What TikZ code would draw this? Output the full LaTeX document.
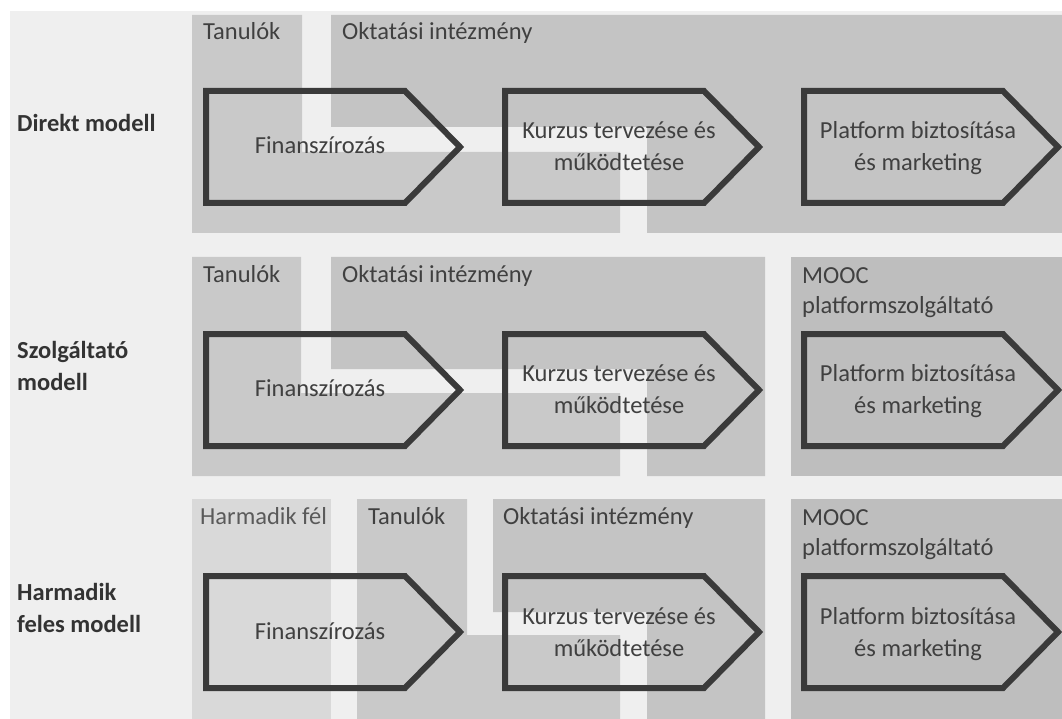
\documentclass[tikz,border=0pt]{standalone}
\usepackage{fontspec}
\setmainfont{Carlito}
\definecolor{panel}{HTML}{EFEFEF}
\definecolor{tanul}{HTML}{C9C9C9}
\definecolor{oktat}{HTML}{C4C4C4}
\definecolor{mooc}{HTML}{BEBEBE}
\definecolor{harm}{HTML}{D9D9D9}
\definecolor{chevc}{HTML}{3A3A3A}
\definecolor{txt}{HTML}{404040}
\definecolor{txtlight}{HTML}{5A5A5A}
\definecolor{rowtxt}{HTML}{333333}
\tikzset{
  chevline/.style={draw=chevc, line width=6pt, miter limit=10},
  chev/.pic={\path[chevline] (0,0) -- (199,0) -- (254,56) -- (199,112) -- (0,112) -- cycle;},
  grplabel/.style={anchor=base west, align=left, font=\fontsize{24.5}{30}\selectfont, text=txt, inner sep=0pt},
  boxtext/.style={anchor=base, align=center, font=\fontsize{24.5}{32}\selectfont, text=txt, inner sep=0pt},
  rowlabel/.style={anchor=base west, align=left, font=\bfseries\fontsize{24.5}{32}\selectfont, text=rowtxt, inner sep=0pt}
}
\begin{document}
\begin{tikzpicture}[x=1pt,y=-1pt]
\useasboundingbox (0,0) rectangle (1062,719);
\fill[white] (0,0) rectangle (1062,719);
\fill[panel] (10,11) rectangle (1062,719);

% ---------- Row 1: Direkt modell ----------
\fill[tanul] (192,15) -- (302,15) -- (302,152) -- (620,152) -- (620,233) -- (192,233) -- cycle;
\fill[oktat] (331,15) -- (1062,15) -- (1062,233) -- (647,233) -- (647,127) -- (331,127) -- cycle;

% ---------- Row 2: Szolgaltato modell ----------
\fill[tanul] (192,257) -- (301,257) -- (301,393) -- (620,393) -- (620,476) -- (192,476) -- cycle;
\fill[oktat] (331,257) -- (765,257) -- (765,476) -- (647,476) -- (647,369) -- (331,369) -- cycle;
\fill[mooc] (791,257) rectangle (1062,476);

% ---------- Row 3: Harmadik feles modell ----------
\fill[harm] (192,499) rectangle (331,719);
\fill[tanul] (357,499) -- (467,499) -- (467,635) -- (620,635) -- (620,719) -- (357,719) -- cycle;
\fill[oktat] (493,499) -- (765,499) -- (765,719) -- (647,719) -- (647,612) -- (493,612) -- cycle;
\fill[mooc] (791,499) rectangle (1062,719);

% ---------- Row labels (anchor = baseline of last line) ----------
\node[rowlabel] (r1) at (17,132) {Direkt modell};
\node[rowlabel] (r2) at (17,390) {Szolgáltató\\modell};
\node[rowlabel] (r3) at (17,632) {Harmadik\\feles modell};

% ---------- Group labels ----------
\node[grplabel] (g1a) at (203,40) {Tanulók};
\node[grplabel] (g1b) at (342,40) {Oktatási intézmény};
\node[grplabel] (g2a) at (203,283) {Tanulók};
\node[grplabel] (g2b) at (342,283) {Oktatási intézmény};
\node[grplabel] (g2c) at (802,313) {MOOC\\platformszolgáltató};
\node[grplabel, text=txtlight] (g3a) at (200,524) {Harmadik fél};
\node[grplabel] (g3b) at (368,524) {Tanulók};
\node[grplabel] (g3c) at (503,524) {Oktatási intézmény};
\node[grplabel] (g3d) at (802,555) {MOOC\\platformszolgáltató};

% ---------- Chevrons ----------
\pic at (206,91) {chev};
\pic at (505,91) {chev};
\pic at (804,91) {chev};
\pic at (206,334) {chev};
\pic at (505,334) {chev};
\pic at (804,334) {chev};
\pic at (206,576) {chev};
\pic at (505,576) {chev};
\pic at (804,576) {chev};

% ---------- Chevron texts ----------
\node[boxtext] (f1) at (320,154) {Finanszírozás};
\node[boxtext] (k1) at (619,171) {Kurzus tervezése és\\működtetése};
\node[boxtext] (p1) at (918,171) {Platform biztosítása\\és marketing};
\node[boxtext] (f2) at (320,396) {Finanszírozás};
\node[boxtext] (k2) at (619,413) {Kurzus tervezése és\\működtetése};
\node[boxtext] (p2) at (918,413) {Platform biztosítása\\és marketing};
\node[boxtext] (f3) at (320,639) {Finanszírozás};
\node[boxtext] (k3) at (619,656) {Kurzus tervezése és\\működtetése};
\node[boxtext] (p3) at (918,656) {Platform biztosítása\\és marketing};
\end{tikzpicture}
\end{document}
